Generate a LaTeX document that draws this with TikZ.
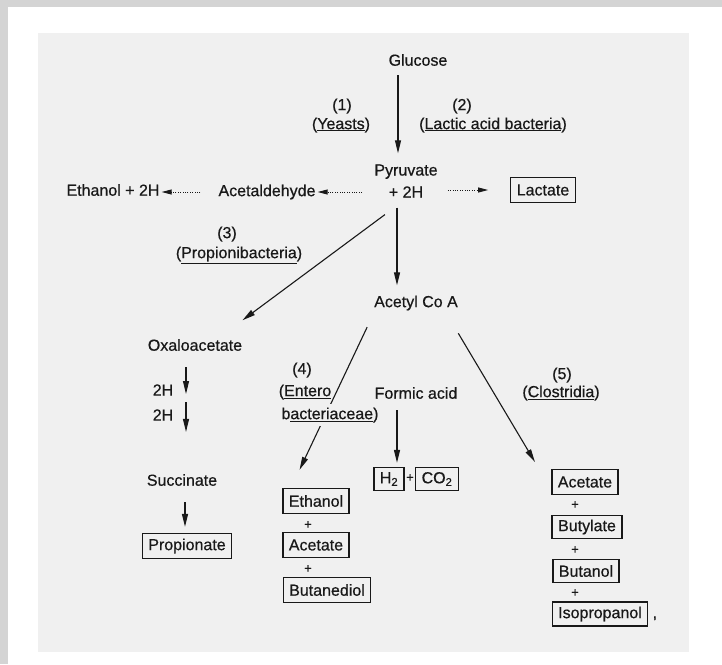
\documentclass[tikz,border=0pt]{standalone}
\usepackage{fontspec}
\setmainfont{Liberation Sans}[FakeBold=0.6]
\usetikzlibrary{arrows.meta, positioning, calc}
\definecolor{scanbg}{RGB}{240,240,240}
\definecolor{edgegray}{RGB}{212,212,212}
\definecolor{ink}{RGB}{25,25,25}

\begin{document}
\begin{tikzpicture}[
  x=1pt, y=-1pt,
  txt/.style={inner sep=2pt, font=\fontsize{16}{22}\selectfont, text=ink, align=center},
  prod/.style={txt, draw=ink, line width=1.3pt, inner xsep=6pt, minimum height=25pt},
  plus/.style={txt, font=\fontsize{13}{13}\selectfont, inner sep=0pt},
  arr/.style={-{Triangle[length=13pt,width=6pt]}, draw=ink, line width=1.1pt},
  dotarr/.style={-{Triangle[length=10pt,width=5pt]}, draw=ink, line width=0.9pt, dash pattern=on 1pt off 1.4pt}
]
  \useasboundingbox (0,0) rectangle (722,664);
  % page edges and scanned sheet
  \fill[edgegray] (0,0) rectangle (722,7);
  \fill[edgegray] (0,0) rectangle (8,664);
  \fill[scanbg] (38,33) rectangle (689,652);

  \node[txt] (glucose) at (418,60) {Glucose};
  \node[txt] (lbl1) at (342,106) {(1)};
  \node[txt] (yeasts) at (341,125) {(\underline{Yeasts})};
  \node[txt] (lbl2) at (462,106) {(2)};
  \node[txt] (lab) at (493,125) {(\underline{Lactic acid bacteria})};

  \node[txt] (pyr) at (406,181) {Pyruvate\\+ 2H};
  \node[txt] (acetald) at (267,192) {Acetaldehyde};
  \node[txt] (eth2h) at (113,190) {Ethanol + 2H};
  \node[prod] (lactate) at (543,190) {Lactate};

  \draw[arr, shorten <=7pt, shorten >=9pt] ([xshift=-20pt]glucose.south) -- ([xshift=-8pt]pyr.north);
  \draw[dotarr, shorten <=10pt] (pyr.west |- acetald.east) -- (acetald.east);
  \draw[dotarr, shorten <=16pt] (acetald.west) -- (eth2h.east |- acetald.west);
  \draw[dotarr, shorten <=8pt, shorten >=22pt] (pyr.east |- lactate.west) -- (lactate.west);

  \node[txt] (lbl3) at (227,234) {(3)};
  \node[txt] (propioni) at (239,255) {(\underline{Propionibacteria})};
  \node[txt] (acetyl) at (416,303) {Acetyl Co A};
  \node[txt] (oxalo) at (195,345) {Oxaloacetate};

  \draw[arr, shorten <=25pt, shorten >=28pt] ([xshift=-1pt]pyr.south) -- ([xshift=25pt]oxalo.north);
  \draw[arr, shorten <=8pt, shorten >=8pt] ([xshift=-9pt]pyr.south) -- ([xshift=-19pt]acetyl.north);

  % propionic branch
  \coordinate (h1) at (186,394);
  \coordinate (h2) at (186,402);
  \node[txt] (twoh1) at (163,390) {2H};
  \node[txt] (twoh2) at (163,415) {2H};
  \node[txt] (succ) at (182,480) {Succinate};
  \node[prod] (propionate) at (187,546) {Propionate};
  \draw[arr, shorten <=14pt] ([xshift=-9pt]oxalo.south) -- (h1);
  \draw[arr, shorten >=40pt] (h2) -- ([xshift=4pt]succ.north);
  \draw[arr, shorten <=14pt, shorten >=6pt] ([xshift=3pt]succ.south) -- ([xshift=-2pt]propionate.north);

  % enteric branch
  \node[txt] (lbl4) at (302,370) {(4)};
  \node[txt] (entero) at (305,392) {(\underline{Entero}};
  \node[prod] (eth) at (316,501) {Ethanol};
  \node[plus] (p1) at (308,525) {+};
  \node[prod] (acet4) at (316,545) {Acetate};
  \node[plus] (p2) at (308,569) {+};
  \node[prod] (butdiol) at (327,590) {Butanediol};
  \draw[arr, shorten <=16pt, shorten >=20pt] ([xshift=-42pt]acetyl.south) -- ([xshift=-25pt]eth.north);
  \node[txt, fill=scanbg, inner ysep=4pt] (bact) at (330,415) {b\underline{acteriaceae})};

  \node[txt] (formic) at (416,393) {Formic acid};
  \node[prod, minimum height=23pt] (htwo) at (389,479) {H\textsubscript{2}};
  \node[plus] (p3) at (410,478) {+};
  \node[prod, minimum height=23pt] (cotwo) at (437,479) {CO\textsubscript{2}};
  \draw[arr, shorten <=9pt, shorten >=4pt] ([xshift=-19pt]formic.south) -- ([xshift=8pt]htwo.north);

  % clostridial branch
  \node[txt] (lbl5) at (562,375) {(5)};
  \node[txt] (clostr) at (561,393) {(\underline{Clostridia})};
  \node[prod] (acet5) at (585,482) {Acetate};
  \node[plus] (p4) at (575,505) {+};
  \node[prod, minimum height=23pt] (butyl) at (587,527) {Butylate};
  \node[plus] (p5) at (575,550) {+};
  \node[prod, minimum height=23pt] (butol) at (586,571) {Butanol};
  \node[plus] (p6) at (575,593) {+};
  \node[prod, minimum height=24pt] (iso) at (600,614) {Isopropanol};
  \node[txt, anchor=base west, inner sep=0pt] (comma) at ([xshift=4pt]iso.base east) {,};
  \draw[arr, shorten <=24pt, shorten >=8pt] ([xshift=30pt]acetyl.south) -- ([xshift=-46pt]acet5.north);
\end{tikzpicture}
\end{document}
